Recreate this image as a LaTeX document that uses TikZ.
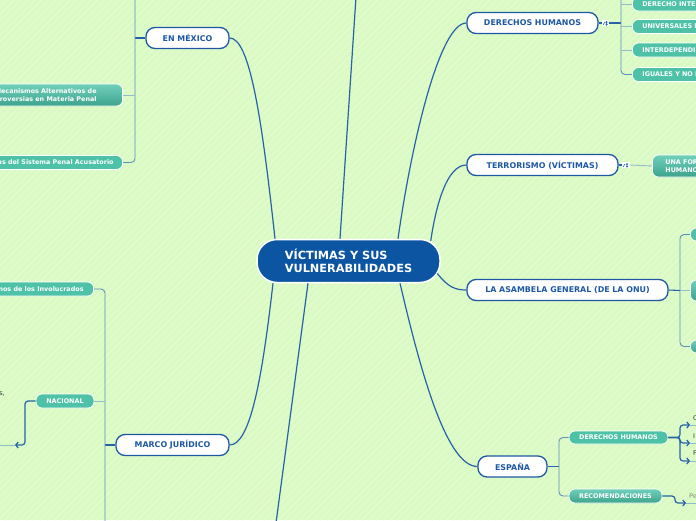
\documentclass[tikz,border=0pt]{standalone}
\usepackage{fontspec}
\setmainfont{DejaVu Sans}
\usetikzlibrary{arrows.meta,calc}
\definecolor{bg}{RGB}{218,250,196}
\definecolor{stripec}{RGB}{225,252,206}
\definecolor{cblue}{RGB}{12,85,162}
\definecolor{mblue}{RGB}{30,88,164}
\definecolor{lblue}{RGB}{38,98,168}
\definecolor{brk}{RGB}{95,145,190}
\definecolor{stubc}{RGB}{145,188,200}
\definecolor{tealc}{RGB}{78,194,167}
\definecolor{tealtop}{RGB}{112,208,186}
\definecolor{tealbot}{RGB}{60,163,141}
\definecolor{gtext}{RGB}{55,55,55}
\definecolor{ptext}{RGB}{130,150,120}
\begin{document}
\begin{tikzpicture}[x=1pt,y=-1pt,
  central/.style={draw=white, line width=1.5pt, fill=cblue, rounded corners=20pt, text=white,
    font=\bfseries\fontsize{11.3}{13}\selectfont, align=left, minimum width=183pt, minimum height=43pt},
  mainn/.style={draw=mblue, line width=1.3pt, fill=white, rounded corners=9pt, text=mblue,
    font=\bfseries\fontsize{7.9}{9}\selectfont, minimum height=21pt, inner xsep=0pt},
  subn/.style={draw=white, line width=0.8pt, fill=tealc, rounded corners=6pt, text=white,
    font=\bfseries\fontsize{6.4}{8}\selectfont, minimum height=14pt, inner ysep=1pt},
  subg/.style={subn, top color=tealtop, bottom color=tealbot},
  conn/.style={draw=lblue, line width=1.2pt},
  dark/.style={draw=lblue, line width=1.1pt},
  brkl/.style={draw=brk, line width=0.9pt, rounded corners=4pt},
  stubl/.style={draw=stubc, line width=0.9pt},
  arr/.style={draw=lblue, line width=1.2pt, rounded corners=3pt, -{Straight Barb[length=2.5pt,width=6pt]}},
  uline/.style={draw=stubc, line width=0.9pt},
  icon/.style={draw=none, fill=white, minimum width=7pt, minimum height=6pt, inner sep=0pt},
  leaf/.style={font=\fontsize{6.5}{8}\selectfont, text=gtext, inner sep=0pt},
  stripe/.style={draw=stripec, line width=1.2pt}
]
\useasboundingbox[fill=bg] (0,0) rectangle (696,520);
\begin{scope}
\clip (0,0) rectangle (696,520);
\foreach \i in {0,7,...,1220} { \draw[stripe] (\i-520,520) -- (\i,0); }
\end{scope}

% central
\node[central] (c) at (348.5,261) {VÍCTIMAS Y SUS\\VULNERABILIDADES};

% main topics
\node[mainn, minimum width=83pt] (enm) at (187.5,38) {EN MÉXICO};
\node[mainn, minimum width=113pt] (marco) at (172.5,445) {MARCO JURÍDICO};
\node[mainn, minimum width=131pt] (dh) at (532.5,23) {DERECHOS HUMANOS};
\node[mainn, minimum width=151pt] (terr) at (542.5,165) {TERRORISMO (VÍCTIMAS)};
\node[mainn, minimum width=201pt] (asam) at (567.5,290) {LA ASAMBELA GENERAL (DE LA ONU)};
\node[mainn, minimum width=69pt] (esp) at (512.5,466.5) {ESPAÑA};

% free ends
\coordinate (topend) at (356,-3);
\coordinate (botend) at (276,523);

% connectors from central
\draw[conn] (enm.east) .. controls (250,38) and (262,120) .. ([xshift=-73.5pt]c.north);
\draw[conn] ([xshift=-8.5pt]c.north) -- (topend);
\draw[conn] (dh.west) .. controls (440,23) and (412,140) .. ([xshift=49.5pt]c.north);
\draw[conn] (terr.west) .. controls (447,165) and (436,205) .. ([xshift=-10pt,yshift=-2pt]c.north east);
\draw[conn] ([xshift=-3.5pt,yshift=-12.5pt]c.east) .. controls (448,287) and (455,290) .. (asam.west);
\draw[conn] ([xshift=51.5pt]c.south) .. controls (418,360) and (445,466.5) .. (esp.west);
\draw[conn] ([xshift=-75.5pt]c.south) .. controls (262,380) and (250,445) .. (marco.east);
\draw[conn] ([xshift=-40.5pt]c.south) -- (botend);

% EN MEXICO children
\node[subg, anchor=east, align=right, inner xsep=26pt, minimum height=22pt] (mec) at (123,95)
  {Mecanismos Alternativos de\\Controversias en Materia Penal};
\node[subn, anchor=east, inner xsep=9pt] (sist) at (123,162.5) {us del Sistema Penal Acusatorio};
\draw[dark] (enm.west) -- (135,38);
\draw[brkl] (135,-3) |- (sist.east);
\draw[stubl] (135,95) -- (mec.east);

% MARCO JURIDICO children
\node[subn, anchor=east, inner xsep=10pt] (invol) at (94,289) {Derechos Humanos de los Involucrados};
\node[subn, minimum width=58pt, inner xsep=0pt] (nac) at (65,401) {NACIONAL};
\draw[dark] (marco.west) -- (105,445);
\draw[brkl] (invol.east) -| (105,523);
\draw[stubl] (105,401) -- (nac.east);
\coordinate (unac) at (15,445);
\node[leaf, anchor=east] (snode) at (5,394) {s,};
\draw[uline] (unac) -- (-2,445);
\draw[arr] (nac.west) -| (25,445) -- (unac);

% DERECHOS HUMANOS children
\node[icon] (dhi) at (605.5,23) {};
\draw[draw=lblue, line width=0.6pt] (603,25) -- (605,22) (606.5,21) -- (606.5,25.5) (605.5,22.2) -- (607.5,22.2) (605.5,24.5) -- (607.5,24.5);
\node[subn, anchor=west, inner xsep=10pt] (dint) at (632,4) {DERECHO INTERNACIONAL};
\node[subn, anchor=west, inner xsep=10pt] (univ) at (632,26.5) {UNIVERSALES E INALIENABLES};
\node[subn, anchor=west, inner xsep=10pt] (inter) at (632,50) {INTERDEPENDIENTES E INDIVISIBLES};
\node[subn, anchor=west, inner xsep=10pt] (igu) at (632,74.5) {IGUALES Y NO DISCRIMINATORIOS};
\draw[dark] (dh.east) -- (dhi.west);
\draw[dark] (dhi.east) -- (621,23);
\draw[brkl] (621,-3) |- (igu.west);
\draw[stubl] (621,4) -- (dint.west);
\draw[stubl] (621,26.5) -- (univ.west);
\draw[stubl] (621,50) -- (inter.west);

% TERRORISMO children
\node[icon, minimum width=8pt] (ti) at (626,165) {};
\draw[draw=lblue, line width=0.6pt] (623,167) -- (625,164) (627,163) -- (627,167.5) (626,164.2) -- (628,164.2) (626,166.5) -- (628,166.5);
\node[subg, anchor=west, align=left, inner xsep=13pt, minimum height=22pt] (una) at (652,166)
  {UNA FORMA DE VIOLAR LOS DERECHOS\\HUMANOS};
\draw[dark] (terr.east) -- (ti.west);
\draw[stubl] (ti.east) -- (una.west);

% ASAMBLEA children
\node[subn, anchor=west, minimum width=40pt, minimum height=13pt] (a1) at (690,234.5) {};
\node[subg, anchor=west, minimum width=40pt, minimum height=21pt] (a2) at (690,290.5) {};
\node[subg, anchor=west, minimum width=40pt, minimum height=13pt] (a3) at (690,346.5) {};
\draw[dark] (asam.east) -- (680,290.5);
\draw[brkl] (a1.west) -| (680,346.5) -- (a3.west);
\draw[stubl] (680,290.5) -- (a2.west);

% ESPANA children
\node[subn, minimum width=99pt, minimum height=13pt, inner xsep=0pt] (edh) at (618.5,437.5) {DERECHOS HUMANOS};
\node[subg, minimum width=93pt, minimum height=14pt, inner xsep=0pt] (rec) at (615.5,496) {RECOMENDACIONES};
\draw[dark] (esp.east) -- (559,466.5);
\draw[brkl] (edh.west) -| (559,496) -- (rec.west);

\coordinate (uC) at (690,425);
\coordinate (uI) at (690,443);
\coordinate (uF) at (690,461);
\coordinate (uP) at (686,503);
\node[leaf, anchor=west] (tC) at (693,418) {C};
\node[leaf, anchor=west] (tI) at (693,436) {I};
\node[leaf, anchor=west] (tF) at (693,453) {F};
\node[leaf, anchor=west, text=ptext] (tP) at (689,496) {Pe};
\draw[uline] (uC) -- (700,425);
\draw[uline] (uI) -- (700,443);
\draw[uline] (uF) -- (700,461);
\draw[uline] (uP) -- (700,503);
\draw[arr] (edh.east) -| (680,425) -- (uC);
\draw[arr] (edh.east) -| (680,443) -- (uI);
\draw[arr] (edh.east) -| (680,461) -- (uF);
\draw[arr] (rec.east) -- (675,496) |- (uP);
\end{tikzpicture}
\end{document}
